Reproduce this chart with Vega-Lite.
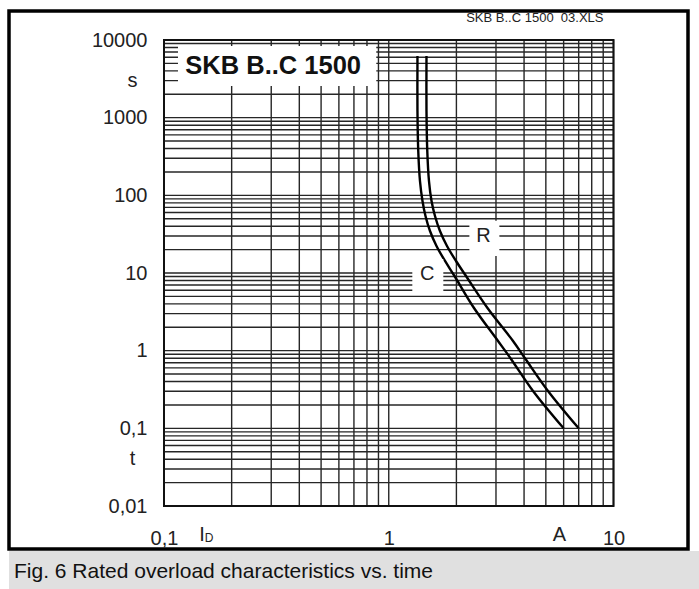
{
  "$schema": "https://vega.github.io/schema/vega-lite/v6.json",
  "background": "white",
  "padding": {"left": 7, "top": 9, "right": 0, "bottom": 0},
  "spacing": -2,
  "config": {
    "view": {"stroke": null},
    "font": "Liberation Sans",
    "axis": {"grid": false, "domain": false, "ticks": false, "tickSize": 0, "labelFontSize": 20, "labelFont": "Liberation Sans", "labelColor": "#222", "labelFlush": false, "labelOverlap": false},
    "axisX": {"offset": -43, "labelPadding": 22},
    "axisY": {"offset": -155, "labelPadding": 17}
  },
  "datasets": {
    "xgrid": [{"v": 0.1}, {"v": 0.2}, {"v": 0.3}, {"v": 0.4}, {"v": 0.5}, {"v": 0.6}, {"v": 0.7}, {"v": 0.8}, {"v": 0.9}, {"v": 1}, {"v": 2}, {"v": 3}, {"v": 4}, {"v": 5}, {"v": 6}, {"v": 7}, {"v": 8}, {"v": 9}, {"v": 10}],
    "ygrid": [{"v": 0.01}, {"v": 0.02}, {"v": 0.03}, {"v": 0.04}, {"v": 0.05}, {"v": 0.06}, {"v": 0.07}, {"v": 0.08}, {"v": 0.09},
              {"v": 0.1}, {"v": 0.2}, {"v": 0.3}, {"v": 0.4}, {"v": 0.5}, {"v": 0.6}, {"v": 0.7}, {"v": 0.8}, {"v": 0.9},
              {"v": 1}, {"v": 2}, {"v": 3}, {"v": 4}, {"v": 5}, {"v": 6}, {"v": 7}, {"v": 8}, {"v": 9},
              {"v": 10}, {"v": 20}, {"v": 30}, {"v": 40}, {"v": 50}, {"v": 60}, {"v": 70}, {"v": 80}, {"v": 90},
              {"v": 100}, {"v": 200}, {"v": 300}, {"v": 400}, {"v": 500}, {"v": 600}, {"v": 700}, {"v": 800}, {"v": 900},
              {"v": 1000}, {"v": 2000}, {"v": 3000}, {"v": 4000}, {"v": 5000}, {"v": 6000}, {"v": 7000}, {"v": 8000}, {"v": 9000},
              {"v": 10000}],
    "curves": [
      {"curve": "C", "o": 1, "i": 1.342, "t": 6223},
      {"curve": "C", "o": 2, "i": 1.342, "t": 1219},
      {"curve": "C", "o": 3, "i": 1.353, "t": 372.4},
      {"curve": "C", "o": 4, "i": 1.377, "t": 152.9},
      {"curve": "C", "o": 5, "i": 1.413, "t": 84.6},
      {"curve": "C", "o": 6, "i": 1.457, "t": 54.2},
      {"curve": "C", "o": 7, "i": 1.526, "t": 34.75},
      {"curve": "C", "o": 8, "i": 1.631, "t": 22.28},
      {"curve": "C", "o": 9, "i": 1.780, "t": 14.28},
      {"curve": "C", "o": 10, "i": 1.961, "t": 9.15},
      {"curve": "C", "o": 11, "i": 2.395, "t": 3.544},
      {"curve": "C", "o": 12, "i": 3.063, "t": 1.332},
      {"curve": "C", "o": 13, "i": 3.499, "t": 0.781},
      {"curve": "C", "o": 14, "i": 4.384, "t": 0.3027},
      {"curve": "C", "o": 15, "i": 6.0, "t": 0.1},
      {"curve": "R", "o": 1, "i": 1.472, "t": 6223},
      {"curve": "R", "o": 2, "i": 1.472, "t": 1219},
      {"curve": "R", "o": 3, "i": 1.484, "t": 372.4},
      {"curve": "R", "o": 4, "i": 1.510, "t": 152.9},
      {"curve": "R", "o": 5, "i": 1.550, "t": 84.6},
      {"curve": "R", "o": 6, "i": 1.606, "t": 54.2},
      {"curve": "R", "o": 7, "i": 1.690, "t": 34.75},
      {"curve": "R", "o": 8, "i": 1.816, "t": 22.28},
      {"curve": "R", "o": 9, "i": 1.992, "t": 14.28},
      {"curve": "R", "o": 10, "i": 2.207, "t": 9.15},
      {"curve": "R", "o": 11, "i": 2.750, "t": 3.544},
      {"curve": "R", "o": 12, "i": 3.572, "t": 1.332},
      {"curve": "R", "o": 13, "i": 4.060, "t": 0.781},
      {"curve": "R", "o": 14, "i": 5.111, "t": 0.3027},
      {"curve": "R", "o": 15, "i": 7.0, "t": 0.1}
    ],
    "boxes": [
      {"box": "title", "x1": 0.1154, "x2": 0.880, "y1": 2560, "y2": 8380},
      {"box": "R", "x1": 2.284, "x2": 3.106, "y1": 16.6, "y2": 46.9},
      {"box": "C", "x1": 1.273, "x2": 1.749, "y1": 5.88, "y2": 15.2}
    ],
    "titlebox": [{"label": "SKB B..C 1500", "x": 0.306, "y": 4626}],
    "curvelabels": [{"label": "R", "x": 2.64, "y": 30.1}, {"label": "C", "x": 1.484, "y": 9.73}],
    "frame": [{"x1": 0.1, "x2": 10, "y1": 0.01, "y2": 10000}],
    "fileref": [{"label": "SKB B..C 1500\u00a0 03.XLS", "x": 10, "y": 10000}],
    "yunits": [{"label": "s", "x": 0.1, "y": 3000}, {"label": "t", "x": 0.1, "y": 0.04}],
    "xunits": [{"label": "I", "x": 0.1476, "y": 0.01}, {"label": "A", "x": 5.75, "y": 0.01}],
    "xsub": [{"label": "D", "x": 0.1585, "y": 0.01}],
    "caption": [{"caption": "Fig. 6 Rated overload characteristics vs. time"}]
  },
  "vconcat": [
    {
      "width": 679,
      "height": 538,
      "view": {"stroke": "black", "strokeWidth": 3.5, "fill": "white"},
      "layer": [
        {
          "data": {"name": "xgrid"},
          "mark": {"type": "rule", "color": "#262626", "strokeWidth": 1.4},
          "encoding": {
            "x": {"field": "v", "type": "quantitative",
                  "scale": {"type": "log", "domain": [0.1, 10], "range": [155, 604.5], "nice": false},
                  "axis": {"values": [0.1, 1, 10], "title": null, "orient": "bottom", "labelExpr": "replace(format(datum.value, '~g'), '.', ',')"}},
            "y": {"datum": 0.01, "type": "quantitative", "scale": {"type": "log", "domain": [0.01, 10000], "range": [495, 29], "nice": false}},
            "y2": {"datum": 10000}
          }
        },
        {
          "data": {"name": "ygrid"},
          "mark": {"type": "rule", "color": "#262626", "strokeWidth": 1.4},
          "encoding": {
            "y": {"field": "v", "type": "quantitative",
                  "scale": {"type": "log", "domain": [0.01, 10000], "range": [495, 29], "nice": false},
                  "axis": {"values": [0.01, 0.1, 1, 10, 100, 1000, 10000], "title": null, "orient": "left", "labelExpr": "replace(format(datum.value, '~g'), '.', ',')"}},
            "x": {"datum": 0.1, "type": "quantitative"},
            "x2": {"datum": 10}
          }
        },
        {
          "data": {"name": "curves"},
          "mark": {"type": "line", "interpolate": "catmull-rom", "color": "black", "strokeWidth": 2.4},
          "encoding": {
            "x": {"field": "i", "type": "quantitative"},
            "y": {"field": "t", "type": "quantitative"},
            "detail": {"field": "curve"},
            "order": {"field": "o", "type": "quantitative"}
          }
        },
        {
          "data": {"name": "boxes"},
          "mark": {"type": "rect", "fill": "white", "stroke": null},
          "encoding": {
            "x": {"field": "x1", "type": "quantitative"},
            "x2": {"field": "x2"},
            "y": {"field": "y1", "type": "quantitative"},
            "y2": {"field": "y2"}
          }
        },
        {
          "data": {"name": "frame"},
          "mark": {"type": "rect", "fill": "transparent", "stroke": "#111", "strokeWidth": 2},
          "encoding": {
            "x": {"field": "x1", "type": "quantitative"},
            "x2": {"field": "x2"},
            "y": {"field": "y1", "type": "quantitative"},
            "y2": {"field": "y2"}
          }
        },
        {
          "data": {"name": "titlebox"},
          "mark": {"type": "text", "font": "Liberation Sans", "fontWeight": "bold", "fontSize": 25.5, "color": "#111", "align": "center", "baseline": "middle"},
          "encoding": {
            "x": {"field": "x", "type": "quantitative"},
            "y": {"field": "y", "type": "quantitative"},
            "text": {"field": "label"}
          }
        },
        {
          "data": {"name": "curvelabels"},
          "mark": {"type": "text", "font": "Liberation Sans", "fontSize": 20, "color": "#222", "align": "center", "baseline": "middle"},
          "encoding": {
            "x": {"field": "x", "type": "quantitative"},
            "y": {"field": "y", "type": "quantitative"},
            "text": {"field": "label"}
          }
        },
        {
          "data": {"name": "fileref"},
          "mark": {"type": "text", "font": "Liberation Sans", "fontSize": 13, "color": "#222", "align": "right", "baseline": "middle", "dx": -10, "dy": -22},
          "encoding": {
            "x": {"field": "x", "type": "quantitative"},
            "y": {"field": "y", "type": "quantitative"},
            "text": {"field": "label"}
          }
        },
        {
          "data": {"name": "yunits"},
          "mark": {"type": "text", "font": "Liberation Sans", "fontSize": 20, "color": "#222", "align": "center", "baseline": "middle", "dx": -31.5},
          "encoding": {
            "x": {"field": "x", "type": "quantitative"},
            "y": {"field": "y", "type": "quantitative"},
            "text": {"field": "label"}
          }
        },
        {
          "data": {"name": "xunits"},
          "mark": {"type": "text", "font": "Liberation Sans", "fontSize": 20, "color": "#222", "align": "center", "baseline": "middle", "dy": 29},
          "encoding": {
            "x": {"field": "x", "type": "quantitative"},
            "y": {"field": "y", "type": "quantitative"},
            "text": {"field": "label"}
          }
        },
        {
          "data": {"name": "xsub"},
          "mark": {"type": "text", "font": "Liberation Sans", "fontSize": 12, "color": "#222", "align": "center", "baseline": "middle", "dy": 32},
          "encoding": {
            "x": {"field": "x", "type": "quantitative"},
            "y": {"field": "y", "type": "quantitative"},
            "text": {"field": "label"}
          }
        }
      ]
    },
    {
      "width": 691,
      "height": 43,
      "view": {"fill": "#e0e0e0", "stroke": null},
      "data": {"name": "caption"},
      "mark": {"type": "text", "align": "left", "baseline": "middle", "dx": 5, "dy": -1, "font": "Liberation Sans", "fontSize": 21, "color": "#111"},
      "encoding": {
        "text": {"field": "caption"},
        "x": {"datum": 0, "type": "quantitative", "scale": {"domain": [0, 1]}, "axis": null}
      }
    }
  ]
}
